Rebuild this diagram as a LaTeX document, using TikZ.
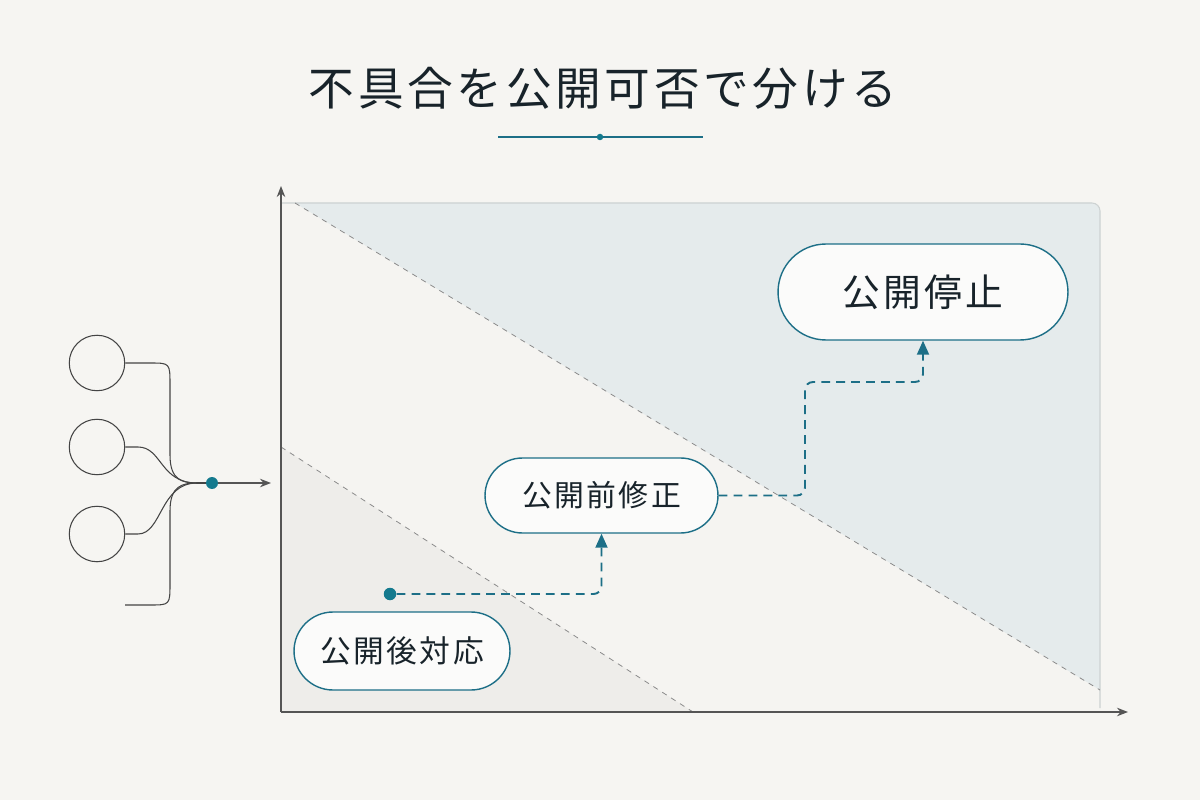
\documentclass[tikz,border=0pt]{standalone}
\usepackage{fontspec}
\usetikzlibrary{arrows.meta,shapes.misc}
\newfontfamily\cjk{Noto Sans CJK JP}[LetterSpace=8]
\definecolor{bgc}{HTML}{F6F5F2}
\definecolor{midc}{HTML}{F5F4F1}
\definecolor{topc}{HTML}{E5EBEC}
\definecolor{lowc}{HTML}{EEEDEA}
\definecolor{tealc}{HTML}{1D6F87}
\definecolor{dotc}{HTML}{147A8E}
\definecolor{inkc}{HTML}{18232A}
\definecolor{axisc}{HTML}{555555}
\definecolor{linec}{HTML}{444444}
\definecolor{dashc}{HTML}{8A8A8A}
\definecolor{edgec}{HTML}{CDD2D2}
\tikzset{
  pill/.style={rounded rectangle, draw=tealc, line width=0.8pt, fill=white!60!bgc, text=inkc, inner sep=0pt},
  axisline/.style={draw=axisc, line width=0.7pt, -{Stealth[length=2.2mm,width=1.7mm]}},
  divider/.style={draw=dashc, line width=0.45pt, dash pattern=on 3pt off 3pt},
  flow/.style={draw=tealc, line width=1.1pt, dash pattern=on 5pt off 3.5pt, rounded corners=0.16cm},
  flowtip/.style={-{Triangle[length=2.8mm,width=2.4mm]}},
  feeder/.style={draw=linec, line width=0.6pt},
  src/.style={circle, draw=linec, line width=0.6pt, minimum size=1.11cm, inner sep=0pt},
  tdot/.style={circle, fill=dotc, inner sep=0pt, minimum size=#1},
}
\begin{document}
\begin{tikzpicture}[x=0.02cm,y=-0.02cm]
\useasboundingbox (0,0) rectangle (1200,800);
\fill[bgc] (0,0) rectangle (1200,800);

% title
\node[text=inkc, font=\cjk\fontsize{26pt}{30pt}\selectfont] (title) at (603,88) {不具合を公開可否で分ける};
\coordinate (ul) at (498,137);
\coordinate (ur) at (703,137);
\draw[tealc, line width=0.8pt] (ul) -- (ur);
\node[tdot=0.13cm] (udot) at (600,137) {};

% chart regions
\fill[midc] (281,712) -- (281,203) -- (1092,203) arc[start angle=-90,end angle=0,radius=8] -- (1100,712) -- cycle;
\fill[topc] (295,203) -- (1092,203) arc[start angle=-90,end angle=0,radius=8] -- (1100,690) -- cycle;
\fill[lowc] (281,447) -- (693,712) -- (281,712) -- cycle;
\draw[edgec, line width=0.6pt] (281,203) -- (1092,203) arc[start angle=-90,end angle=0,radius=8] -- (1100,708);

% dividers
\coordinate (d1a) at (295,203);
\coordinate (d1b) at (1100,690);
\coordinate (d2a) at (281,447);
\coordinate (d2b) at (693,712);
\draw[divider] (d1a) -- (d1b);
\draw[divider] (d2a) -- (d2b);

% axes
\coordinate (O) at (281,712);
\coordinate (Ytop) at (281,186);
\coordinate (Xend) at (1128,712);
\draw[axisline] (O) -- (Ytop);
\draw[axisline] (O) -- (Xend);

% nodes
\node[pill, minimum width=5.8cm, minimum height=1.92cm, font=\cjk\fontsize{21.5pt}{24pt}\selectfont] (stop) at (923,292) {公開停止};
\node[pill, minimum width=4.66cm, minimum height=1.5cm, font=\cjk\fontsize{17pt}{20pt}\selectfont] (fix) at (601.5,495.5) {公開前修正};
\node[pill, minimum width=4.32cm, minimum height=1.56cm, font=\cjk\fontsize{17.5pt}{20pt}\selectfont] (post) at (402,651) {公開後対応};

% flow connectors
\node[tdot=0.25cm] (start) at (390,594) {};
\coordinate (f1) at (601.5,594);
\draw[flow, flowtip] (start) -- (f1) -- (fix.south);
\coordinate (g1) at (805,495.5);
\coordinate (g2) at (805,382);
\coordinate (g3) at (923,382);
\draw[flow, flowtip] (fix.east) -- (g1) -- (g2) -- (g3) -- (stop.south);

% left feeder
\node[src] (ca) at (97,363) {};
\node[src] (cb) at (97,447) {};
\node[src] (cc) at (97,534) {};
\coordinate (b0) at (125,605);
\coordinate (M) at (197,483);
\node[tdot=0.24cm] (mdot) at (212,483) {};
\coordinate (marrow) at (271,483);
\draw[feeder] (ca.east) -- (150,363) .. controls (170,363) .. (170,385) -- (170,455) .. controls (170,480) and (182,483) .. (M);
\draw[feeder] (cb.east) -- (138,447) .. controls (162,447) and (160,483) .. (M);
\draw[feeder] (cc.east) -- (138,534) .. controls (162,534) and (160,483) .. (M);
\draw[feeder] (b0) -- (150,605) .. controls (170,605) .. (170,583) -- (170,511) .. controls (170,486) and (182,483) .. (M);
\draw[feeder] (M) -- (mdot);
\draw[axisline] (mdot) -- (marrow);
\end{tikzpicture}
\end{document}
